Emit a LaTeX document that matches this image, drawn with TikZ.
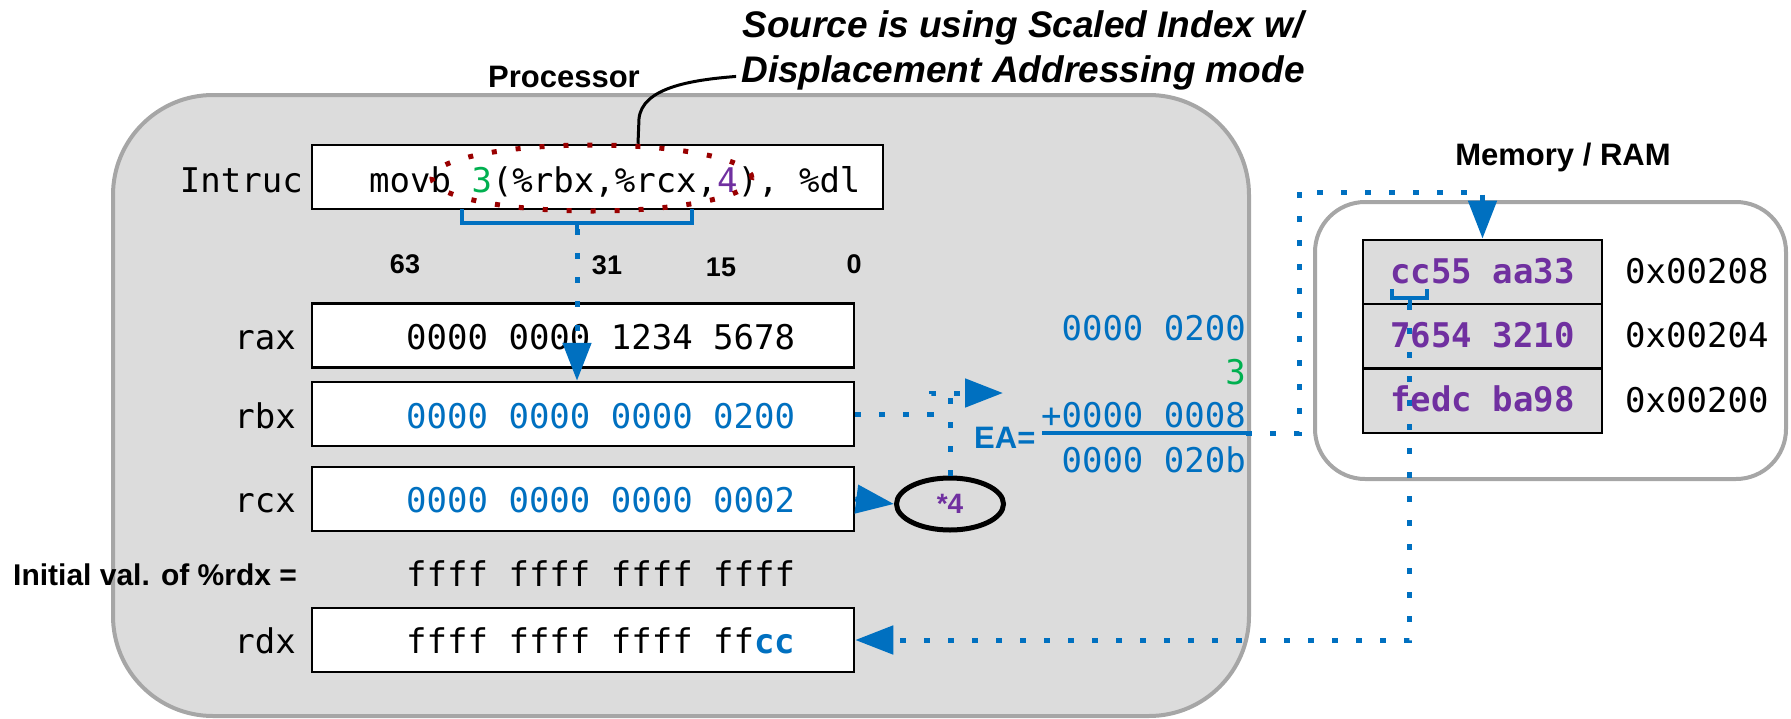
\documentclass[tikz,border=0pt]{standalone}
\usepackage{fontspec}
\setmainfont{Liberation Sans}
\newfontfamily\dmono{DejaVu Sans Mono}
\usetikzlibrary{arrows.meta,shapes.geometric}

\definecolor{ablue}{HTML}{0070C0}
\definecolor{agreen}{HTML}{00B050}
\definecolor{apurple}{HTML}{7030A0}
\definecolor{ared}{HTML}{990000}
\definecolor{pgray}{HTML}{DCDCDC}
\definecolor{bgray}{HTML}{A6A6A6}

\tikzset{
  panel/.style={draw=bgray, line width=4pt, fill=pgray, rounded corners=100pt},
  reg/.style={draw=black, line width=2.5pt, fill=white, minimum width=542pt, minimum height=64pt, inner sep=0pt},
  monotxt/.style={font={\dmono\fontsize{34}{40}\selectfont}, inner sep=0pt},
  heading/.style={font={\bfseries\fontsize{31}{36}\selectfont}, inner sep=0pt, anchor=base},
  bitno/.style={font={\bfseries\fontsize{27}{32}\selectfont}, inner sep=0pt, anchor=base},
  note/.style={font={\bfseries\itshape\fontsize{37}{44}\selectfont}, inner sep=0pt, anchor=base},
  cell/.style={draw=black, line width=2.5pt, fill=pgray, minimum width=239pt, minimum height=64.3pt,
    inner sep=0pt, text height=22pt, text depth=0pt, text=apurple,
    font={\dmono\bfseries\fontsize{34}{40}\selectfont}},
  dotline/.style={draw=ablue, line width=5pt, dash pattern=on 6pt off 18pt},
  bigtip/.style={-{Triangle[length=38pt,width=28pt]}},
  brace/.style={draw=ablue, line width=4.5pt},
}

\begin{document}
\begin{tikzpicture}[x=1pt,y=-1pt]
\useasboundingbox (0,0) rectangle (1791,718);

% panels
\draw[panel] (113,95) rectangle (1249,716);
\draw[panel, fill=white, rounded corners=50pt] (1315,202) rectangle (1786,479);

% headings
\node[heading] (proc) at (564,87) {Processor};
\node[heading] (memt) at (1563,165) {Memory / RAM};
\node[note] (note1) at (1023,37) {Source is using Scaled Index w/};
\node[note] (note2) at (1023,82) {Displacement Addressing mode};

% instruction register
\node[reg, minimum width=571pt] (instr) at (597.5,177) {};
\node[monotxt, anchor=base west] (itext) at (369,192)
  {movb \textcolor{agreen}{3}(\%rbx,\%rcx,\textcolor{apurple}{4}), \%dl};
\node[monotxt, anchor=base east] (ilbl) at (303,192) {Intruc};

% bit positions
\node[bitno] (b63) at (405,273) {63};
\node[bitno] (b31) at (607,274) {31};
\node[bitno] (b15) at (721,276) {15};
\node[bitno] (b0)  at (854,273) {0};

% general purpose registers
\node[reg] (rax) at (583,335.5) {};
\node[reg] (rbx) at (583,414) {};
\node[reg] (rcx) at (583,499) {};
\node[reg] (rdx) at (583,640) {};

\node[monotxt, anchor=base east] (lax) at (296,349) {rax};
\node[monotxt, anchor=base east] (lbx) at (296,428) {rbx};
\node[monotxt, anchor=base east] (lcx) at (296,512) {rcx};
\node[monotxt, anchor=base east] (ldx) at (296,653) {rdx};

\node[monotxt, anchor=base west] (vax) at (406,349) {0000 0000 1234 5678};
\node[monotxt, anchor=base west, text=ablue] (vbx) at (406,428) {0000 0000 0000 0200};
\node[monotxt, anchor=base west, text=ablue] (vcx) at (406,512) {0000 0000 0000 0002};
\node[monotxt, anchor=base west] (vinit) at (406,586) {ffff ffff ffff ffff};
\node[monotxt, anchor=base west] (vdx) at (406,653)
  {ffff ffff ffff ff\textcolor{ablue}{\bfseries cc}};
\node[font={\bfseries\fontsize{30}{36}\selectfont}, inner sep=0pt, anchor=base west] (linit)
  at (13,585) {Initial val. of \%rdx =};

% effective address sum
\node[monotxt, anchor=base east, text=ablue] (ea1) at (1246,340) {0000 0200};
\node[monotxt, anchor=base east, text=agreen] (ea2) at (1246,384) {3};
\node[monotxt, anchor=base east, text=ablue] (ea3) at (1246,427) {+0000 0008};
\node[monotxt, anchor=base east, text=ablue] (ea4) at (1246,472) {0000 020b};
\node[font={\bfseries\fontsize{31}{36}\selectfont}, text=ablue, inner sep=0pt, anchor=base west]
  (eal) at (974,448) {EA=};
\coordinate (sumL) at (1042,433);
\coordinate (sumR) at (1246,433);
\draw[ablue, line width=4pt] (sumL) -- (sumR);
\coordinate (sumin) at (1003,393);

% scale factor
\node[draw, ellipse, line width=5pt, minimum width=107pt, minimum height=52pt, inner sep=0pt,
  text=apurple, font={\bfseries\fontsize{28}{32}\selectfont}] (scale) at (950,504) {*4};

% memory cells
\node[cell] (m2) at (1482.5,272) {cc55 aa33};
\node[cell] (m1) at (1482.5,336.3) {7654 3210};
\node[cell] (m0) at (1482.5,400.6) {fedc ba98};
\node[monotxt, anchor=base west] (a2) at (1625,283) {0x00208};
\node[monotxt, anchor=base west] (a1) at (1625,347.5) {0x00204};
\node[monotxt, anchor=base west] (a0) at (1625,412) {0x00200};

% operand highlight
\node[draw=ared, ellipse, line width=5pt, dash pattern=on 5pt off 19pt, minimum width=320pt,
  minimum height=66pt, inner sep=0pt] (oval) at (592,178) {};

% callout connector
\draw[line width=3pt] ([xshift=40.5pt]instr.north) -- ++(1,-25)
  .. controls (642,88) and (690,80) .. ([xshift=-5pt,yshift=-4pt]note2.west);

% brace under the memory operand and its link to rbx
\draw[brace] (462,209) -- ++(0,14) -| (692,209);
\draw[brace] (577,223) -- (577,229) coordinate (bt);
\draw[dotline, bigtip] (bt) -- (bt |- rbx.north);

% base and scaled index into the sum
\draw[dotline, bigtip] (rbx.east) -- ++(76,0) |- (sumin);
\draw[dotline] (scale.north) -- (scale.north |- sumin);
\draw[ablue, line width=5pt, bigtip] (rcx.east) -- (scale.west);

% effective address to memory
\draw[dotline, bigtip] (sumR) -| (1299,192) -| (m2.north);

% selected byte back to rdx
\draw[brace, line width=4pt] (1392,289) -- ++(0,9) -| (1427,289);
\draw[brace, line width=4pt] (1409.5,298) -- (1409.5,304) coordinate (ct);
\draw[dotline, bigtip] (ct) |- (rdx.east);

\end{tikzpicture}
\end{document}
